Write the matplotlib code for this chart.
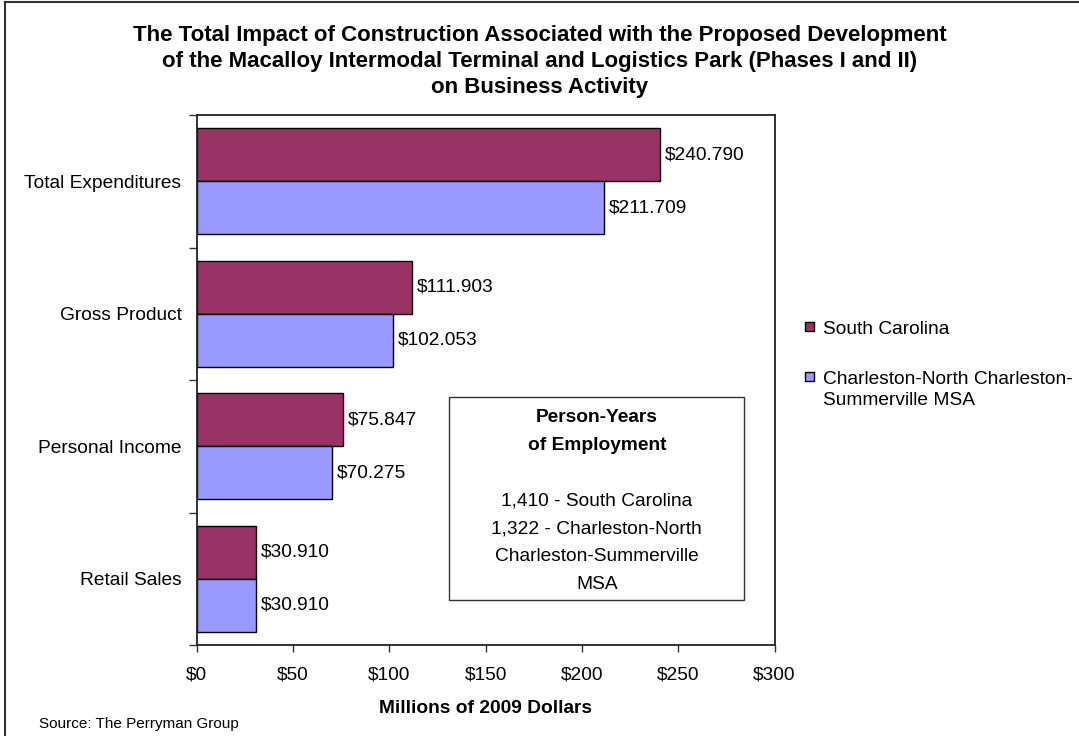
import matplotlib
matplotlib.use("Agg")
import matplotlib.pyplot as plt
from matplotlib.patches import Rectangle
from matplotlib.lines import Line2D
import numpy as np

plt.rcParams['font.family'] = ['Liberation Sans', 'DejaVu Sans']

# ---- data -------------------------------------------------------------
categories = ["Total Expenditures", "Gross Product", "Personal Income", "Retail Sales"]
south_carolina = [240.790, 111.903, 75.847, 30.910]
charleston_msa = [211.709, 102.053, 70.275, 30.910]
series_names = ["South Carolina", "Charleston-North Charleston-\nSummerville MSA"]
x_ticks = [0, 50, 100, 150, 200, 250, 300]
x_tick_labels = ["$0", "$50", "$100", "$150", "$200", "$250", "$300"]
title_lines = [
    "The Total Impact of Construction Associated with the Proposed Development",
    "of the Macalloy Intermodal Terminal and Logistics Park (Phases I and II)",
    "on Business Activity",
]
box_header = ["Person-Years", "of Employment"]
box_lines = ["1,410 - South Carolina", "1,322 - Charleston-North",
             "Charleston-Summerville", "MSA"]
x_label = "Millions of 2009 Dollars"
source_note = "Source: The Perryman Group"

# ---- styling ----------------------------------------------------------
W, H = 1079, 736
PURPLE = "#993366"
BLUE = "#9999FF"
FS = 13.8


def fx(x):
    return x / W


def fy(y):
    return 1 - y / H


fig = plt.figure(figsize=(W / 100, H / 100), dpi=100)
fig.patch.set_facecolor("white")

# plot area (pixel box: left 197, right 775, top 115, bottom 645)
ax = fig.add_axes([fx(196.7), fy(645), (774.5 - 196.7) / W, (645 - 115) / H])

y = np.arange(len(categories))
bar_h = 0.4
b1 = ax.barh(y - bar_h / 2, south_carolina, height=bar_h, color=PURPLE,
             edgecolor="black", linewidth=1.0, label=series_names[0])
b2 = ax.barh(y + bar_h / 2, charleston_msa, height=bar_h, color=BLUE,
             edgecolor="black", linewidth=1.0, label=series_names[1])
for bars, vals in ((b1, south_carolina), (b2, charleston_msa)):
    ax.bar_label(bars, labels=[f"${v:.3f}" for v in vals], padding=3.5,
                 fontsize=FS, color="black")

ax.set_xlim(0, 300)
ax.set_ylim(len(categories) - 0.5, -0.5)

ax.set_xticks(x_ticks)
ax.set_xticklabels(x_tick_labels, fontsize=FS)
ax.tick_params(axis="x", direction="out", length=5, width=1.0, pad=10.5,
               color="#333333")

# category boundaries carry the tick marks, the labels sit between them
ax.set_yticks(np.arange(-0.5, len(categories), 1.0))
ax.set_yticklabels([])
ax.set_yticks(y, minor=True)
ax.set_yticklabels(categories, minor=True, fontsize=FS)
ax.tick_params(axis="y", which="major", direction="out", length=6, width=1.0,
               color="#333333")
ax.tick_params(axis="y", which="minor", length=0, pad=11)

for s in ax.spines.values():
    s.set_color("#222222")
    s.set_linewidth(1.3)

# title
for i, line in enumerate(title_lines):
    fig.text(fx(540), fy(41 + 26 * i), line, ha="center", va="baseline",
             fontsize=16, fontweight="bold")

# x axis label and source
fig.text(fx(485.6), fy(713), x_label, ha="center", va="baseline",
         fontsize=FS, fontweight="bold")
fig.text(fx(39), fy(728), source_note, ha="left", va="baseline", fontsize=11)

# employment box
fig.add_artist(Rectangle((fx(449.3), fy(600)), (744.3 - 449.3) / W,
                         (600 - 397) / H, transform=fig.transFigure,
                         facecolor="white", edgecolor="#333333", linewidth=1.0))
step = 27.8
base = 422
rows = box_header + [""] + box_lines
for i, line in enumerate(rows):
    fig.text(fx(596.8), fy(base + step * i), line, ha="center", va="baseline",
             fontsize=FS, fontweight="bold" if line in box_header else "normal")

# legend
legend_rows = [(PURPLE, series_names[0], 327), (BLUE, series_names[1], 377)]
for color, name, yc in legend_rows:
    fig.add_artist(Rectangle((fx(805), fy(yc + 4.5)), 9 / W, 9 / H,
                             transform=fig.transFigure, facecolor=color,
                             edgecolor="black", linewidth=1.0))
    for j, part in enumerate(name.split("\n")):
        fig.text(fx(823), fy(yc + 7 + 21 * j), part, ha="left",
                 va="baseline", fontsize=FS)

# outer chart frame (left and top edges)
fig.add_artist(Line2D([fx(4.5), fx(4.5)], [0, fy(1.5)], transform=fig.transFigure,
                      color="#333333", linewidth=1.5))
fig.add_artist(Line2D([fx(4.5), 1], [fy(1.5), fy(1.5)], transform=fig.transFigure,
                      color="#333333", linewidth=1.5))

fig.savefig("out.png", dpi=100)
